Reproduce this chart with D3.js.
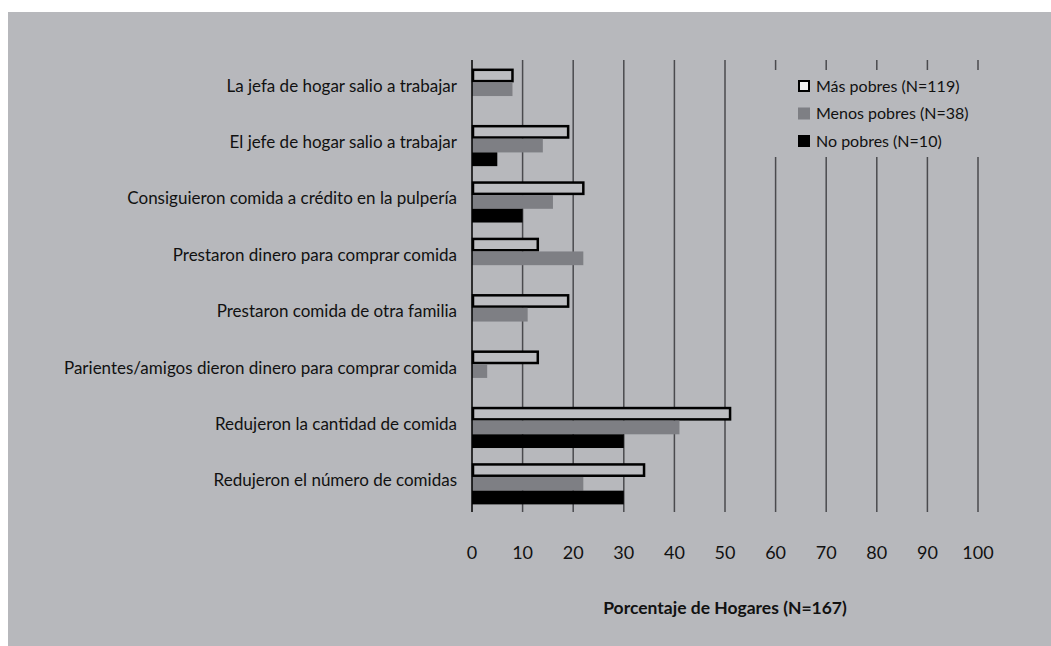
<!DOCTYPE html>
<html>
<head>
<meta charset="utf-8">
<script src="https://cdn.jsdelivr.net/npm/d3@7"></script>
<style>
  body { margin: 0; background: #fff; }
  svg text { font-family: Lato, "Open Sans", sans-serif; fill: #111; }
</style>
</head>
<body>
<div id="chart"></div>
<script>
// categories, top to bottom
var categories = [
  "La jefa de hogar salio a trabajar",
  "El jefe de hogar salio a trabajar",
  "Consiguieron comida a crédito en la pulpería",
  "Prestaron dinero para comprar comida",
  "Prestaron comida de otra familia",
  "Parientes/amigos dieron dinero para comprar comida",
  "Redujeron la cantidad de comida",
  "Redujeron el número de comidas"
];
var seriesNames = ["Más pobres (N=119)", "Menos pobres (N=38)", "No pobres (N=10)"];
var masPobres   = [8, 19, 22, 13, 19, 13, 51, 34];
var menosPobres = [8, 14, 16, 22, 11, 3, 41, 22];
var noPobres    = [0, 5, 10, 0, 0, 0, 30, 30];
var xTicks = [0, 10, 20, 30, 40, 50, 60, 70, 80, 90, 100];

var width = 1051, height = 646;
var margin = {top: 61, left: 472, right: 73, bottom: 134};

var svg = d3.select("#chart").append("svg")
    .attr("width", width)
    .attr("height", height);

// grey panel
svg.append("rect")
    .attr("x", 8).attr("y", 12)
    .attr("width", width - 8).attr("height", height - 12)
    .attr("fill", "#b7b8bc");

var x = d3.scaleLinear().domain([0, 100]).range([margin.left, width - margin.right]);
var y = d3.scaleBand().domain(categories)
    .range([margin.top, height - margin.bottom])
    .paddingInner(0.27).paddingOuter(0.135);
var ySub = d3.scaleBand().domain(seriesNames).range([0, y.bandwidth()]);

// grid lines
svg.append("g").selectAll("line")
    .data(xTicks.slice(1))
    .enter().append("line")
    .attr("x1", function(d){ return x(d); })
    .attr("x2", function(d){ return x(d); })
    .attr("y1", margin.top - 1)
    .attr("y2", height - margin.bottom)
    .attr("stroke", "#4a4a4e")
    .attr("stroke-width", 1.5);

// legend box hides the grid behind it
svg.append("rect")
    .attr("x", 770).attr("y", 70)
    .attr("width", 222).attr("height", 87)
    .attr("fill", "#b7b8bc");

var rows = categories.map(function(c, i){
  return {cat: c, vals: [masPobres[i], menosPobres[i], noPobres[i]]};
});

var group = svg.append("g").selectAll("g")
    .data(rows)
    .enter().append("g")
    .attr("transform", function(d){ return "translate(0," + y(d.cat) + ")"; });

group.selectAll("rect")
    .data(function(d){ return d.vals.map(function(v, j){ return {v: v, s: seriesNames[j], j: j}; }); })
    .enter().filter(function(d){ return d.v > 0; })
    .append("rect")
    .attr("x", function(d){ return x(0) + (d.j === 0 ? 1 : 0); })
    .attr("y", function(d){ return ySub(d.s) + (d.j === 0 ? 1.2 : 0); })
    .attr("width", function(d){ return x(d.v) - x(0) - (d.j === 0 ? 1 : 0); })
    .attr("height", function(d){ return ySub.bandwidth() - (d.j === 0 ? 2.4 : 0); })
    .attr("fill", function(d){ return ["#bcbdc1", "#7e7f84", "#000"][d.j]; })
    .attr("stroke", function(d){ return d.j === 0 ? "#000" : "none"; })
    .attr("stroke-width", 2.5);

// zero axis line
svg.append("line")
    .attr("x1", x(0)).attr("x2", x(0))
    .attr("y1", margin.top - 1).attr("y2", height - margin.bottom)
    .attr("stroke", "#000").attr("stroke-width", 1.5);

// category labels
svg.append("g").selectAll("text")
    .data(categories)
    .enter().append("text")
    .attr("x", 457)
    .attr("y", function(d){ return y(d) + y.bandwidth() / 2 - 4; })
    .attr("text-anchor", "end")
    .attr("dominant-baseline", "central")
    .style("font-size", "17px")
    .text(function(d){ return d; });

// x tick labels
svg.append("g").selectAll("text")
    .data(xTicks)
    .enter().append("text")
    .attr("x", function(d){ return x(d); })
    .attr("y", 552)
    .attr("text-anchor", "middle")
    .attr("dominant-baseline", "central")
    .style("font-size", "18px")
    .text(function(d){ return d; });

svg.append("text")
    .attr("x", (x(0) + x(100)) / 2)
    .attr("y", 607)
    .attr("text-anchor", "middle")
    .attr("dominant-baseline", "central")
    .style("font-size", "17.5px")
    .style("font-weight", "bold")
    .text("Porcentaje de Hogares (N=167)");

// legend
var legend = svg.append("g").selectAll("g")
    .data(seriesNames)
    .enter().append("g")
    .attr("transform", function(d, i){ return "translate(798," + (86 + i * 27.5) + ")"; });

legend.append("rect")
    .attr("x", function(d, i){ return i === 0 ? 1 : 0; })
    .attr("y", function(d, i){ return i === 0 ? -5 : -6; })
    .attr("width", function(d, i){ return i === 0 ? 10 : 12; })
    .attr("height", function(d, i){ return i === 0 ? 10 : 12; })
    .attr("fill", function(d, i){ return ["#f4f4f4", "#7e7f84", "#000"][i]; })
    .attr("stroke", function(d, i){ return i === 0 ? "#000" : "none"; })
    .attr("stroke-width", 2);

legend.append("text")
    .attr("x", 18)
    .attr("y", -1)
    .attr("dominant-baseline", "central")
    .style("font-size", "16px")
    .text(function(d){ return d; });
</script>
</body>
</html>
